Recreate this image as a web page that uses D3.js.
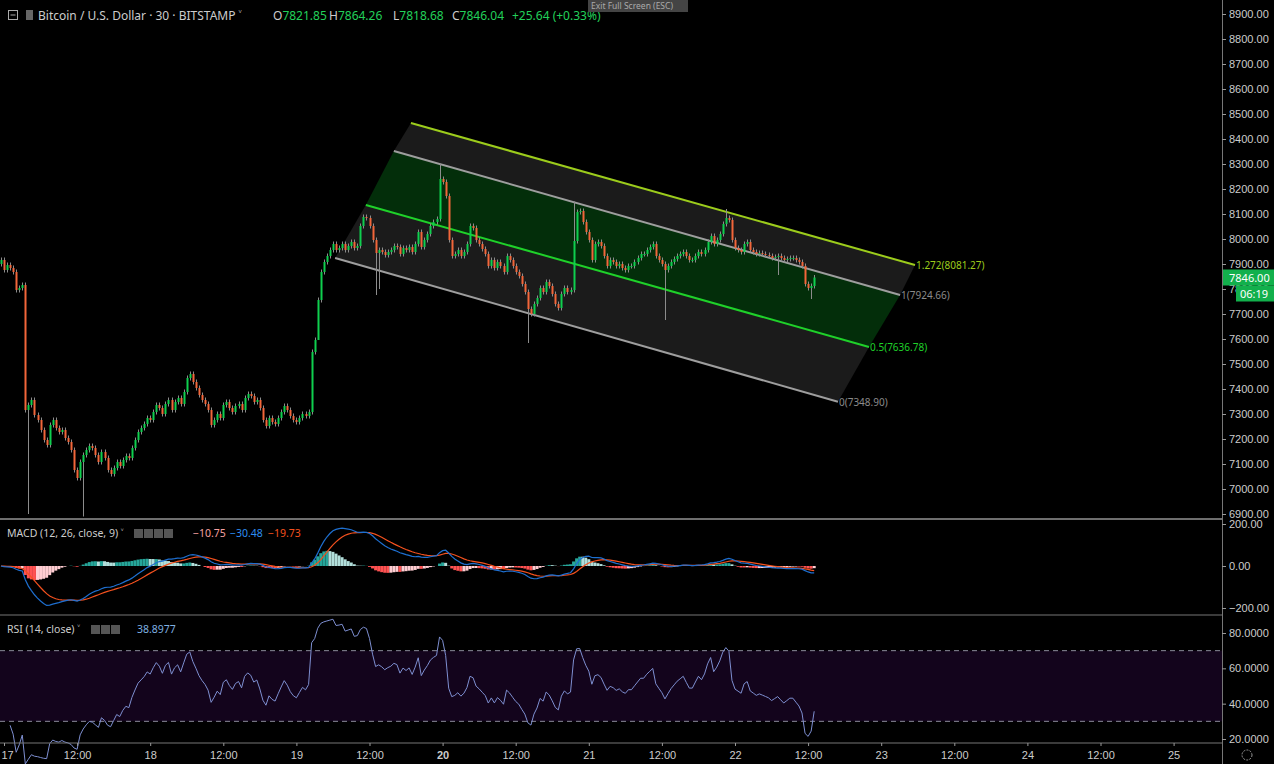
<!DOCTYPE html>
<html>
<head>
<meta charset="utf-8">
<script src="https://cdn.jsdelivr.net/npm/d3@7"></script>
<style>
  body { margin: 0; background: #000; overflow: hidden; }
  svg { display: block; font-family: "Noto Sans", "DejaVu Sans", sans-serif; }
</style>
</head>
<body>
<svg width="1274" height="764"></svg>
<script>
// 30 min closes, from 16th 23:30 onwards
const closes = [
  7916,7876,7896,7884,7868,7796,7804,7816,7316,7336,
  7356,7296,7276,7236,7196,7176,7256,7276,7244,7228,
  7236,7204,7188,7156,7076,7044,7108,7136,7156,7172,
  7164,7136,7108,7148,7124,7076,7060,7084,7108,7092,
  7116,7132,7124,7164,7196,7228,7244,7260,7284,7276,
  7308,7336,7324,7300,7340,7356,7316,7348,7364,7340,
  7388,7444,7460,7428,7404,7376,7356,7340,7316,7256,
  7276,7300,7284,7336,7348,7324,7308,7332,7340,7316,
  7364,7380,7372,7348,7356,7324,7276,7252,7284,7268,
  7260,7284,7308,7332,7316,7292,7276,7268,7284,7300,
  7292,7308,7548,7596,7756,7868,7908,7932,7956,7980,
  7956,7964,7980,7956,7972,7988,7964,7972,8052,8088,
  8084,8052,7996,7944,7956,7948,7936,7948,7956,7972,
  7968,7940,7964,7956,7968,7948,7980,8028,7968,7996,
  8020,8052,8068,8080,8240,8228,8172,7996,7932,7940,
  7956,7932,7948,7980,8052,8044,7996,7980,7960,7940,
  7892,7916,7884,7908,7892,7868,7932,7916,7892,7868,
  7852,7820,7788,7720,7700,7740,7764,7804,7788,7828,
  7812,7780,7740,7724,7780,7804,7788,7796,7992,8108,
  8112,8068,8028,7996,7916,7980,7988,7972,7932,7892,
  7916,7908,7892,7900,7884,7876,7892,7892,7908,7924,
  7940,7940,7956,7968,7980,7932,7916,7900,7876,7892,
  7908,7920,7932,7940,7948,7932,7916,7916,7932,7948,
  7940,7956,7988,8012,7980,7996,8020,8060,8084,8076,
  7996,7964,7956,7948,7980,7988,7956,7948,7940,7944,
  7940,7936,7932,7924,7928,7932,7924,7916,7920,7924,
  7924,7916,7908,7892,7820,7804,7812,7846
];
const firstOpen = 7900;
// long wicks that stand out: [candle index, high, low]
const bigWicks = [
  [9, null, 6900], [27, null, 6890], [104, null, 7700], [123, null, 7776], [124, null, 7800],
  [144, 8300, null], [173, null, 7584], [188, 8150, null], [218, null, 7676],
  [238, 8120, null], [255, null, 7856], [266, null, 7760]
];

const priceTicks = d3.range(6900, 8901, 100);
const macdTicks = [200, 0, -200];
const rsiTicks = [80, 60, 40, 20];

// fib channel: level, start [candle, price], end [candle, price], colour, label
const chanLevels = [0, 0.5, 1, 1.272];
const chanStart = [[109.7, 7924], [119.8, 8136], [129.0, 8352], [134.6, 8464]];
const chanEnd = [[274.8, 7349], [285.0, 7568], [295.2, 7776], [300.1, 7896]];
const chanColors = ["#9e9e9e", "#1fd12a", "#9e9e9e", "#9ccc1c"];
const chanLabels = ["0(7348.90)", "0.5(7636.78)", "1(7924.66)", "1.272(8081.27)"];

const t0 = Date.UTC(2018, 10, 16, 23, 30);
const half = 30 * 60 * 1000;
const timeOf = i => new Date(t0 + i * half);

const candles = closes.map((c, i) => {
  const o = i === 0 ? firstOpen : closes[i - 1];
  let h = Math.max(o, c) + 10, l = Math.min(o, c) - 10;
  const w = bigWicks.find(d => d[0] === i);
  if (w) { if (w[1]) h = w[1]; if (w[2]) l = w[2]; }
  return { t: timeOf(i), o, h, l, c };
});

// indicators
function ema(arr, n) {
  const k = 2 / (n + 1); let prev = arr[0];
  return arr.map(v => (prev = v * k + prev * (1 - k)));
}
const e12 = ema(closes, 12), e26 = ema(closes, 26);
const macd = closes.map((c, i) => e12[i] - e26[i]);
const signal = ema(macd, 9);
const hist = macd.map((m, i) => m - signal[i]);

const rsi = [];
let ag = 0, al = 0;
closes.forEach((c, i) => {
  if (i === 0) { rsi.push(50); return; }
  const ch = c - closes[i - 1];
  const g = Math.max(ch, 0), lo = Math.max(-ch, 0);
  const n = Math.min(i, 14);
  ag = (ag * (n - 1) + g) / n; al = (al * (n - 1) + lo) / n;
  rsi.push(al === 0 ? 100 : 100 - 100 / (1 + ag / al));
});

const svg = d3.select("svg");
const W = 1222;

const x = d3.scaleUtc()
  .domain([Date.UTC(2018, 10, 17), Date.UTC(2018, 10, 25)])
  .range([4, 1173.6]);
const y = d3.scaleLinear().domain([6900, 8900]).range([514, 14]);
const yM = d3.scaleLinear().domain([-200, 200]).range([608, 524]);
const yR = d3.scaleLinear().domain([20, 80]).range([739, 633]);

svg.append("rect").attr("width", 1274).attr("height", 764).attr("fill", "#000");

// channel
const cx = d => x(timeOf(d[0])), cy = d => y(d[1]);
const band = (a, b, fill) => svg.append("path")
  .attr("d", d3.line()([[cx(chanStart[a]), cy(chanStart[a])], [cx(chanEnd[a]), cy(chanEnd[a])],
    [cx(chanEnd[b]), cy(chanEnd[b])], [cx(chanStart[b]), cy(chanStart[b])]]) + "Z")
  .attr("fill", fill);
band(0, 1, "#1b1b1b");
band(1, 2, "#032e0a");
band(2, 3, "#1b1b1b");
chanLevels.forEach((lv, i) => {
  svg.append("line")
    .attr("x1", cx(chanStart[i])).attr("y1", cy(chanStart[i]))
    .attr("x2", cx(chanEnd[i])).attr("y2", cy(chanEnd[i]))
    .attr("stroke", chanColors[i]).attr("stroke-width", 2);
  svg.append("text").attr("x", cx(chanEnd[i]) + 1).attr("y", cy(chanEnd[i]) + 4)
    .attr("fill", chanColors[i] === "#9e9e9e" ? "#8a8a8a" : chanColors[i])
    .attr("font-size", 10).text(chanLabels[i]);
});

// candles
const up = "#0fcf4e", down = "#f2663a";
const cg = svg.append("g");
cg.selectAll("line").data(candles).join("line")
  .attr("x1", d => Math.round(x(d.t)) + 0.5).attr("x2", d => Math.round(x(d.t)) + 0.5)
  .attr("y1", d => y(d.h)).attr("y2", d => y(d.l))
  .attr("stroke", "#8c8c8c").attr("stroke-width", 1);
cg.selectAll("rect").data(candles).join("rect")
  .attr("x", d => Math.round(x(d.t)) - 0.5).attr("width", 2)
  .attr("y", d => y(Math.max(d.o, d.c)))
  .attr("height", d => Math.max(1, Math.abs(y(d.o) - y(d.c))))
  .attr("fill", d => d.c >= d.o ? up : down);

// MACD
const hg = svg.append("g");
hg.selectAll("rect").data(hist).join("rect")
  .attr("x", (d, i) => x(timeOf(i)) - 1.5).attr("width", 3)
  .attr("y", d => Math.min(yM(d), yM(0)))
  .attr("height", d => Math.abs(yM(d) - yM(0)))
  .attr("fill", (d, i) => {
    const p = i ? hist[i - 1] : d;
    if (d >= 0) return d >= p ? "#26a69a" : "#b2dfdb";
    return d <= p ? "#ff5252" : "#ffcdd2";
  });
svg.append("path").datum(signal)
  .attr("d", d3.line().x((d, i) => x(timeOf(i))).y(d => yM(d)))
  .attr("fill", "none").attr("stroke", "#f4511e").attr("stroke-width", 1.2);
svg.append("path").datum(macd)
  .attr("d", d3.line().x((d, i) => x(timeOf(i))).y(d => yM(d)))
  .attr("fill", "none").attr("stroke", "#1e6fd0").attr("stroke-width", 1.2);

// RSI
svg.append("rect").attr("x", 0).attr("width", W).attr("y", yR(70)).attr("height", yR(30) - yR(70))
  .attr("fill", "#13041c");
[70, 30].forEach(v => svg.append("line").attr("x1", 0).attr("x2", W)
  .attr("y1", yR(v)).attr("y2", yR(v)).attr("stroke", "#8a8a99").attr("stroke-dasharray", "5,4"));
svg.append("path").datum(rsi.slice(3))
  .attr("d", d3.line().x((d, i) => x(timeOf(i + 3))).y(d => yR(d)))
  .attr("fill", "none").attr("stroke", "#7e8fd1").attr("stroke-width", 1);

// separators
[519, 615, 743].forEach(v => svg.append("line").attr("x1", 0).attr("x2", 1274)
  .attr("y1", v).attr("y2", v).attr("stroke", v === 519 ? "#ddd" : "#777"));
svg.append("rect").attr("x", W).attr("y", 0).attr("width", 52).attr("height", 764).attr("fill", "#000");
svg.append("line").attr("x1", W + 0.5).attr("x2", W + 0.5).attr("y1", 0).attr("y2", 764).attr("stroke", "#777");

// right axes
const axStyle = g => {
  g.select(".domain").remove();
  g.selectAll("line").attr("stroke", "#999");
  g.selectAll("text").attr("fill", "#ccc").attr("font-size", 11);
};
svg.append("g").attr("transform", `translate(${W},0)`)
  .call(d3.axisRight(y).tickValues(priceTicks).tickFormat(d3.format(".2f")).tickSize(4))
  .call(axStyle);
svg.append("g").attr("transform", `translate(${W},0)`)
  .call(d3.axisRight(yM).tickValues(macdTicks).tickFormat(d3.format(".2f")).tickSize(4))
  .call(axStyle);
svg.append("g").attr("transform", `translate(${W},0)`)
  .call(d3.axisRight(yR).tickValues(rsiTicks).tickFormat(d3.format(".4f")).tickSize(4))
  .call(axStyle);

// last price tags
const last = closes[closes.length - 1];
svg.append("rect").attr("x", W + 1).attr("y", y(last) - 8).attr("width", 51).attr("height", 16).attr("fill", "#12b04c");
svg.append("text").attr("x", W + 7).attr("y", y(last) + 4).attr("fill", "#fff").attr("font-size", 11).text(last.toFixed(2));
svg.append("rect").attr("x", W + 14).attr("y", y(last) + 8).attr("width", 38).attr("height", 16).attr("fill", "#12b04c");
svg.append("text").attr("x", W + 18).attr("y", y(last) + 20).attr("fill", "#fff").attr("font-size", 11).text("06:19");

// time axis
const xt = svg.append("g").attr("transform", "translate(0,743)")
  .call(d3.axisBottom(x).ticks(d3.utcHour.every(12)).tickSize(3)
    .tickFormat(d => d.getUTCHours() === 0 ? String(d.getUTCDate()) : "12:00"));
xt.select(".domain").remove();
xt.selectAll("line").attr("stroke", "#999");
xt.selectAll("text").attr("fill", "#ccc").attr("font-size", 11).attr("dy", "0.9em")
  .attr("font-weight", d => d.getUTCDate() === 20 && d.getUTCHours() === 0 ? "bold" : null);
xt.selectAll("text").filter(d => d.getUTCDate() === 17 && d.getUTCHours() === 0)
  .attr("text-anchor", "start").attr("x", -3);
svg.append("circle").attr("cx", 1247).attr("cy", 755).attr("r", 5).attr("fill", "none").attr("stroke", "#999").attr("stroke-dasharray", "2,1.2");

// header
svg.append("rect").attr("x", 8.5).attr("y", 10.5).attr("width", 9).attr("height", 9).attr("fill", "none").attr("stroke", "#aaa");
svg.append("line").attr("x1", 10.5).attr("x2", 15.5).attr("y1", 15).attr("y2", 15).attr("stroke", "#aaa");
svg.append("rect").attr("x", 26).attr("y", 10).attr("width", 7).attr("height", 10).attr("fill", "#666");
svg.append("text").attr("x", 38).attr("y", 20).attr("font-size", 12).attr("fill", "#ccc")
  .text("Bitcoin / U.S. Dollar · 30 · BITSTAMP ˅");
const ohlc = [["O", "7821.85", 273], ["H", "7864.26", 329], ["L", "7818.68", 393], ["C", "7846.04", 452]];
ohlc.forEach(([k, v, px]) => {
  const t = svg.append("text").attr("x", px).attr("y", 20).attr("font-size", 12);
  t.append("tspan").attr("fill", "#ccc").text(k);
  t.append("tspan").attr("fill", "#22d05a").text(v);
});
svg.append("text").attr("x", 512).attr("y", 20).attr("font-size", 12).attr("fill", "#22d05a").text("+25.64 (+0.33%)");
svg.append("rect").attr("x", 588).attr("y", 0).attr("width", 100).attr("height", 12).attr("fill", "#444");
svg.append("text").attr("x", 591).attr("y", 9).attr("font-size", 8.5).attr("fill", "#aaa").text("Exit Full Screen (ESC)");

// indicator legends
function icons(x0, y0, n) {
  for (let i = 0; i < n; i++)
    svg.append("rect").attr("x", x0 + i * 10).attr("y", y0).attr("width", 9).attr("height", 9).attr("fill", "#555");
}
svg.append("text").attr("x", 7).attr("y", 537).attr("font-size", 10.5).attr("fill", "#ccc").text("MACD (12, 26, close, 9) ˅");
icons(134, 529, 4);
svg.append("text").attr("x", 193).attr("y", 537).attr("font-size", 10.5).attr("fill", "#f4a0a0").text("−10.75");
svg.append("text").attr("x", 230).attr("y", 537).attr("font-size", 10.5).attr("fill", "#2d8ef0").text("−30.48");
svg.append("text").attr("x", 268).attr("y", 537).attr("font-size", 10.5).attr("fill", "#f4511e").text("−19.73");
svg.append("text").attr("x", 7).attr("y", 633).attr("font-size", 10.5).attr("fill", "#ccc").text("RSI (14, close) ˅");
icons(91, 625, 3);
svg.append("text").attr("x", 137).attr("y", 633).attr("font-size", 10.5).attr("fill", "#7fb0e0").text("38.8977");
</script>
</body>
</html>
